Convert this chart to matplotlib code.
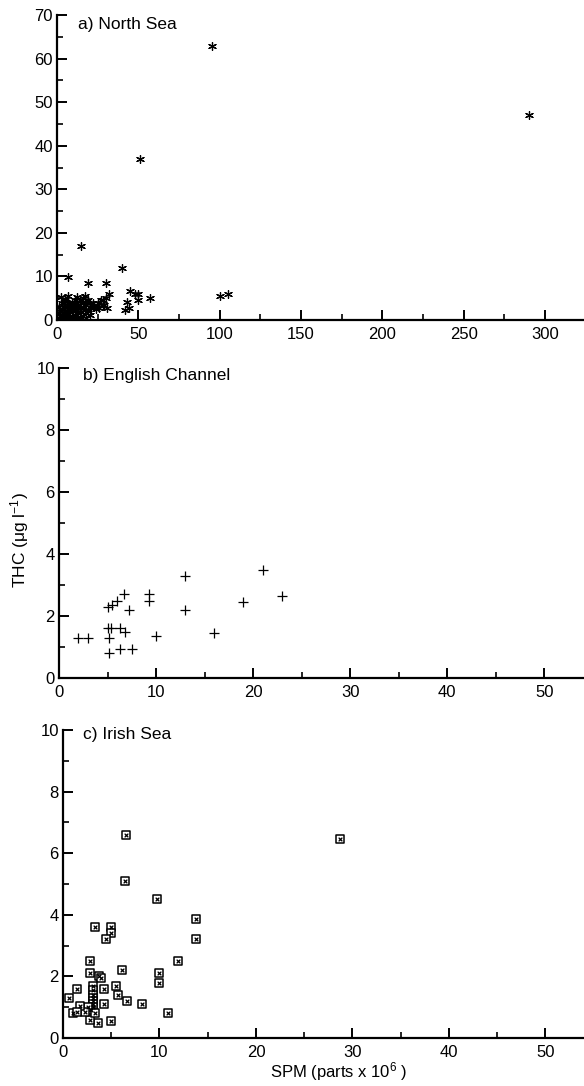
import matplotlib
matplotlib.use("Agg")
import matplotlib.pyplot as plt
from matplotlib.ticker import MultipleLocator

plt.rcParams["font.family"] = ["Liberation Sans", "DejaVu Sans"]
plt.rcParams["mathtext.fontset"] = "custom"
plt.rcParams["mathtext.rm"] = "Liberation Sans"
plt.rcParams["mathtext.it"] = "Liberation Sans:italic"

# a) North Sea -- SPM vs THC (read off the figure)
ns_spm = [95, 51, 290, 15, 40, 7, 19, 30, 100, 105, 57, 45, 48, 50, 50, 43, 42, 44,
          32, 30, 31, 25, 26, 7, 5, 28, 29, 24, 22,
          1, 1, 1.5, 2, 2, 2, 3, 3, 3, 4, 4, 4.5, 5, 5, 5, 6, 6, 6, 7, 7, 7, 8, 8, 8,
          9, 9, 9, 10, 10, 10, 11, 11, 11, 12, 12, 12, 13, 13, 14, 14, 14, 15, 15,
          16, 16, 16, 17, 17, 18, 18, 19, 19, 20, 20, 21, 22, 23, 27, 28, 2.5, 12, 17]
ns_thc = [63, 37, 47, 17, 12, 9.8, 8.5, 8.5, 5.5, 6, 5, 6.7, 5.9, 6, 4.6, 4.2, 2.2, 2.7,
          6, 5, 2.7, 3.8, 2.7, 5.4, 4.8, 4.5, 3.5, 2.5, 3.2,
          0.5, 1.5, 3, 0.3, 1, 2, 0.8, 2.5, 4, 0.4, 1.5, 3, 1, 2, 4.5, 0.5, 1.5, 3, 0.8, 2.5, 4, 0.3, 1.8, 3.5,
          1, 2.5, 4.2, 0.6, 2, 3.5, 1.2, 3, 4.5, 0.5, 2.2, 4, 1.5, 3.3, 0.8, 2.8, 4.6, 1.8, 3.8,
          1, 3, 5, 2.3, 4.2, 0.5, 3.5, 2, 4.5, 1.2, 3.8, 2.8, 4, 3, 4.5, 3.5, 5.2, 5.2, 5.5]

# b) English Channel
ec_spm = [2, 3, 5, 5.5, 6, 6.7, 7.2, 5, 5.4, 6.3, 6.8, 5.2, 5.2, 6.3, 7.5,
          9.3, 9.3, 10, 13, 13, 16, 19, 21, 23]
ec_thc = [1.3, 1.3, 2.3, 2.35, 2.5, 2.7, 2.2, 1.6, 1.6, 1.6, 1.5, 1.3, 0.8, 0.95, 0.95,
          2.7, 2.5, 1.35, 3.3, 2.2, 1.45, 2.45, 3.5, 2.65]

# c) Irish Sea
is_spm = [6.5, 6.4, 9.7, 13.8, 13.8, 11.9, 9.9, 9.9, 10.9, 8.2, 6.6, 6.1, 5.7, 5.5,
          5.0, 5.0, 5.0, 4.5, 3.3, 2.85, 2.85, 3.75, 3.9, 4.25, 4.3, 3.6, 2.85, 1.5, 0.65,
          3.1, 3.1, 3.1, 3.1, 3.1, 3.1, 3.1, 2.9, 2.6, 2.3, 1.0, 1.75, 1.4, 3.3, 28.7]
is_thc = [6.6, 5.1, 4.5, 3.85, 3.2, 2.5, 2.1, 1.8, 0.8, 1.1, 1.2, 2.2, 1.4, 1.7,
          0.55, 3.6, 3.4, 3.2, 3.6, 2.5, 2.1, 2.0, 1.95, 1.6, 1.1, 0.5, 0.6, 1.6, 1.3,
          1.7, 1.55, 1.4, 1.3, 1.2, 1.1, 1.0, 0.9, 1.0, 0.85, 0.8, 1.05, 0.85, 0.8, 6.45]

W, H = 584, 1086
fig = plt.figure(figsize=(W / 100, H / 100), dpi=100)


def make_axes(left, top, bottom, xmax, ymax, xmaj, xmin, ymaj, ymin):
    ax = fig.add_axes([left / W, 1 - bottom / H, 1 - left / W, (bottom - top) / H])
    ax.set_xlim(0, xmax)
    ax.set_ylim(0, ymax)
    for s in ("top", "right"):
        ax.spines[s].set_visible(False)
    for s in ("left", "bottom"):
        ax.spines[s].set_linewidth(1.6)
    ax.xaxis.set_major_locator(MultipleLocator(xmaj))
    ax.xaxis.set_minor_locator(MultipleLocator(xmin))
    ax.yaxis.set_major_locator(MultipleLocator(ymaj))
    ax.yaxis.set_minor_locator(MultipleLocator(ymin))
    ax.tick_params(which="major", direction="in", length=7, width=1.4, labelsize=12, pad=3)
    ax.tick_params(which="minor", direction="in", length=4.5, width=1.2)
    ax.tick_params(axis="x", which="major", pad=5)
    return ax


ax_a = make_axes(57, 15, 320, 324, 70, 50, 25, 10, 5)
ax_a.scatter(ns_spm, ns_thc, marker=(6, 2, 0), s=32, c="black", linewidths=0.9)
ax_a.text(0.04, 0.968, "a) North Sea", transform=ax_a.transAxes, fontsize=12.5, va="center")

ax_b = make_axes(59, 368, 678, 54.1, 10, 10, 5, 2, 1)
ax_b.scatter(ec_spm, ec_thc, marker="+", s=60, c="black", linewidths=0.9)
ax_b.text(0.046, 0.977, "b) English Channel", transform=ax_b.transAxes, fontsize=12.5, va="center")

ax_c = make_axes(63, 730, 1038, 54, 10, 10, 5, 2, 1)
ax_c.scatter(is_spm, is_thc, marker="s", s=26, facecolors="white", edgecolors="black", linewidths=1.1)
ax_c.scatter(is_spm, is_thc, marker="x", s=7, c="black", linewidths=0.9)
ax_c.text(0.038, 0.984, "c) Irish Sea", transform=ax_c.transAxes, fontsize=12.5, va="center")

fig.text(20 / W, 1 - 540 / H, "THC (μg l$^{-1}$)", rotation=90, fontsize=12.5,
         ha="center", va="center")
fig.text(339 / W, 3 / H, "SPM (parts x 10$^{6}$ )", fontsize=12,
         ha="center", va="bottom")

fig.savefig("out.png", dpi=100)
